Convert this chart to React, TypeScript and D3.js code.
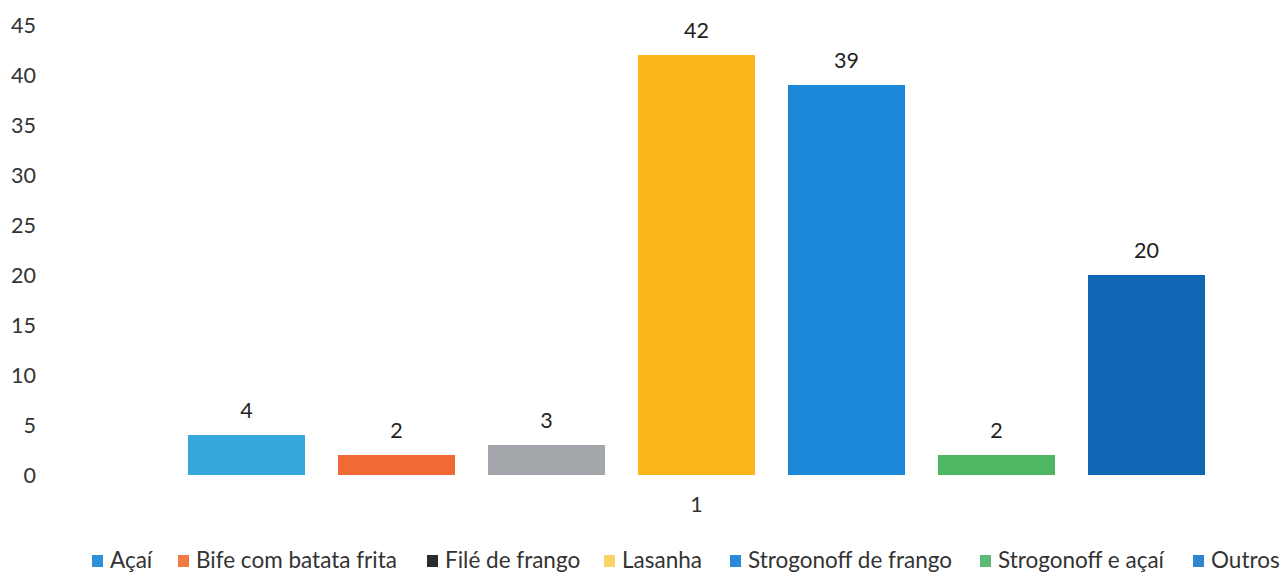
import * as d3 from "d3";
import { useEffect, useRef } from "react";

const categories = ["1"];
const seriesNames = [
  "Açaí",
  "Bife com batata frita",
  "Filé de frango",
  "Lasanha",
  "Strogonoff de frango",
  "Strogonoff e açaí",
  "Outros",
];
const seriesValues = [4, 2, 3, 42, 39, 2, 20];
const barColors = ["#36a6dc", "#f06a35", "#a3a6aa", "#fdb51c", "#1d87d8", "#4fb763", "#0f66b3"];
const legendColors = ["#2f8fd8", "#f07a42", "#2b2b2b", "#f7d36a", "#2a8ad8", "#5fba78", "#2f86cf"];
const yTicks = [0, 5, 10, 15, 20, 25, 30, 35, 40, 45];
const legendX = [92, 178, 427, 604, 730, 980, 1193];

const FONT = "Lato, 'Open Sans', sans-serif";

export default function App(): JSX.Element {
  const svgRef = useRef<SVGSVGElement>(null);

  useEffect(() => {
    if (!svgRef.current) return;
    const width = 1280;
    const height = 573;

    const svg = d3.select(svgRef.current);
    svg.selectAll("*").remove();
    svg.attr("width", width).attr("height", height);

    const y = d3.scaleLinear().domain([0, 45]).range([475, 25]);

    const x0 = d3.scaleBand().domain(categories).range([171.5, 1221.5]).padding(0);
    const x1 = d3
      .scaleBand()
      .domain(seriesNames)
      .range([0, x0.bandwidth()])
      .paddingInner(0.22)
      .paddingOuter(0.11);

    // y axis labels only, no axis line or grid
    svg
      .append("g")
      .selectAll("text")
      .data(yTicks)
      .join("text")
      .attr("x", 36)
      .attr("y", (d) => y(d))
      .attr("dy", "0.35em")
      .attr("text-anchor", "end")
      .style("font-family", FONT)
      .style("font-size", "21.5px")
      .style("fill", "#333")
      .text((d) => String(d));

    const bars = svg.append("g");
    for (const cat of categories) {
      const gx = x0(cat)!;
      seriesNames.forEach((name, i) => {
        const v = seriesValues[i];
        const bx = gx + x1(name)!;
        bars
          .append("rect")
          .attr("x", bx)
          .attr("y", y(v))
          .attr("width", x1.bandwidth())
          .attr("height", y(0) - y(v))
          .attr("fill", barColors[i]);
        bars
          .append("text")
          .attr("x", bx + x1.bandwidth() / 2)
          .attr("y", y(v) - 17)
          .attr("text-anchor", "middle")
          .style("font-family", FONT)
          .style("font-size", "21.5px")
          .style("fill", "#222")
          .text(String(v));
      });

      svg
        .append("text")
        .attr("x", gx + x0.bandwidth() / 2)
        .attr("y", 512)
        .attr("text-anchor", "middle")
        .style("font-family", FONT)
        .style("font-size", "21.5px")
        .style("fill", "#333")
        .text(cat);
    }

    const legend = svg.append("g");
    seriesNames.forEach((name, i) => {
      legend
        .append("rect")
        .attr("x", legendX[i])
        .attr("y", 555)
        .attr("width", 11)
        .attr("height", 12)
        .attr("fill", legendColors[i]);
      legend
        .append("text")
        .attr("x", legendX[i] + 18)
        .attr("y", 568)
        .style("font-family", FONT)
        .style("font-size", "22.5px")
        .style("fill", "#333")
        .text(name);
    });
  }, []);

  return (
    <div style={{ position: "fixed", top: 0, left: 0, width: 1280, height: 573, overflow: "hidden", background: "#fff" }}>
      <svg ref={svgRef} style={{ display: "block" }} />
    </div>
  );
}
